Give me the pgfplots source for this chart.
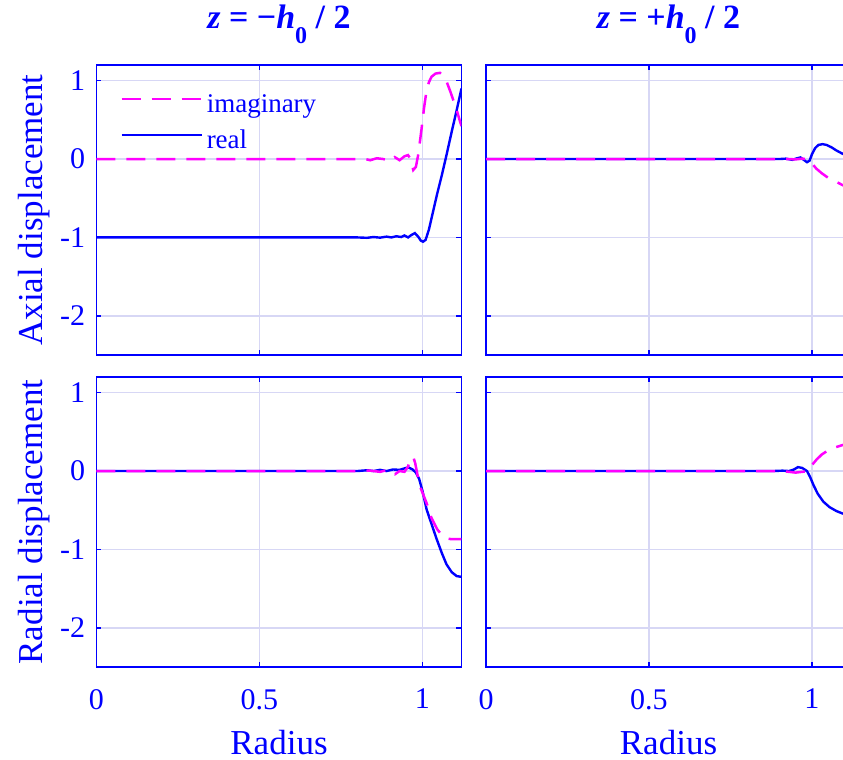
\documentclass[border=0pt]{standalone}
\usepackage{fontspec}
\setmainfont{Liberation Serif}
\usepackage{pgfplots}
\pgfplotsset{compat=1.18}

\definecolor{lineblue}{RGB}{0,0,255}
\definecolor{linemag}{RGB}{255,0,255}
\definecolor{gridcol}{RGB}{215,215,245}

% axial / radial displacement, real and imaginary parts
\pgfplotstableread{
x y
0 -1
0.80 -1
0.83 -1.005
0.85 -0.995
0.87 -1.003
0.89 -0.99
0.905 -1.0
0.92 -0.985
0.935 -0.995
0.945 -0.975
0.956 -1.0
0.966 -0.97
0.977 -0.945
0.987 -0.99
0.995 -1.04
1.002 -1.055
1.01 -1.03
1.02 -0.9
1.03 -0.72
1.045 -0.45
1.06 -0.2
1.075 0.07
1.09 0.35
1.105 0.62
1.12 0.9
}\axrealL
\pgfplotstableread{
x y
0 0
0.80 0
0.82 0.005
0.84 -0.015
0.86 0.01
0.88 0
0.90 -0.025
0.915 0.025
0.93 -0.015
0.945 0.035
0.956 0.05
0.964 0.0
0.972 -0.14
0.98 -0.1
0.987 0.05
0.997 0.37
1.005 0.65
1.013 0.88
1.02 0.98
1.028 1.05
1.04 1.09
1.054 1.1
1.065 1.06
1.075 0.98
1.085 0.87
1.095 0.75
1.105 0.63
1.114 0.5
1.12 0.42
}\aximagL
\pgfplotstableread{
x y
0 0
0.90 0
0.92 0.005
0.94 -0.01
0.955 0.01
0.965 0.02
0.975 -0.01
0.985 -0.04
0.993 -0.02
1.0 0.06
1.01 0.14
1.02 0.18
1.033 0.19
1.045 0.18
1.06 0.15
1.075 0.11
1.093 0.07
1.12 0.02
}\axrealR
\pgfplotstableread{
x y
0 0
0.93 0
0.95 -0.005
0.97 0.005
0.985 0.0
0.995 -0.03
1.013 -0.12
1.03 -0.18
1.05 -0.24
1.07 -0.28
1.093 -0.33
1.12 -0.38
}\aximagR
\pgfplotstableread{
x y
0 0
0.80 0
0.83 0.01
0.85 0.0
0.87 0.015
0.89 0.0
0.91 0.02
0.93 0.015
0.95 0.04
0.958 0.045
0.97 0.02
0.98 -0.02
0.99 -0.1
1.0 -0.25
1.013 -0.49
1.03 -0.7
1.044 -0.87
1.06 -1.05
1.074 -1.19
1.09 -1.29
1.105 -1.34
1.12 -1.35
}\radrealL
\pgfplotstableread{
x y
0 0
0.80 0
0.84 0.005
0.87 -0.01
0.89 0.01
0.905 0.0
0.916 -0.04
0.93 0.0
0.945 -0.01
0.955 0.05
0.965 0.16
0.972 0.18
0.978 0.1
0.985 -0.05
0.995 -0.22
1.013 -0.41
1.028 -0.6
1.045 -0.74
1.06 -0.82
1.075 -0.86
1.09 -0.87
1.12 -0.87
}\radimagL
\pgfplotstableread{
x y
0 0
0.88 0
0.91 0.005
0.93 0.0
0.945 0.02
0.957 0.05
0.97 0.04
0.985 0.0
0.995 -0.08
1.005 -0.18
1.018 -0.29
1.035 -0.39
1.054 -0.46
1.075 -0.51
1.093 -0.54
1.12 -0.57
}\radrealR
\pgfplotstableread{
x y
0 0
0.90 0
0.93 -0.01
0.95 -0.02
0.97 -0.01
0.985 -0.005
0.995 0.05
1.013 0.14
1.03 0.21
1.052 0.27
1.07 0.3
1.093 0.33
1.12 0.36
}\radimagR

\pgfplotsset{disp/.style={
  width=182.5pt, height=145pt, scale only axis,
  xmin=0, xmax=1.12, ymin=-2.5, ymax=1.2,
  xtick={0,0.5,1}, ytick={-2,-1,0,1},
  xticklabels={0,0.5,1}, yticklabels={-2,-1,0,1},
  grid=major, major grid style={gridcol, line width=0.7pt},
  axis line style={lineblue, line width=0.75pt},
  tick style={lineblue, line width=0.75pt}, major tick length=2.5pt, tick align=inside,
  ticklabel style={font=\fontsize{15}{18}\selectfont, text=lineblue},
  yticklabel style={xshift=-2.2pt},
  xticklabel style={yshift=-7.5pt},
  label style={font=\fontsize{17.5}{21}\selectfont, text=lineblue},
  xlabel style={at={(axis description cs:0.5,0)}, anchor=north, yshift=-28.3pt},
  ylabel style={at={(axis description cs:-0.1493,0.5)}, anchor=base, rotate=0},
  title style={at={(axis description cs:0.5,1)}, anchor=base, yshift=12pt,
    font=\fontsize{17}{20}\selectfont\bfseries, text=lineblue},
  /pgf/number format/assume math mode=true,
},
re/.style={lineblue, line width=1.2pt},
im/.style={linemag, line width=1.25pt, dash pattern=on 9.5pt off 5.5pt}}

\begin{document}
\begin{tikzpicture}
\useasboundingbox (-48.25pt,-46.5pt) rectangle (373.25pt,333.5pt);
\clip (-48.25pt,-46.5pt) rectangle (373.25pt,333.5pt);

\begin{axis}[disp, at={(0pt,156pt)}, anchor=south west,
  xticklabels={}, ylabel={Axial displacement},
  title={\textit{z} = −\textit{h}\raisebox{-7.5pt}{\fontsize{12}{14}\selectfont 0} / 2},
  reverse legend,
  legend style={draw=none, fill=none, at={(axis description cs:0.064,0.903)}, anchor=north west,
    font=\fontsize{13.5}{16}\selectfont, text=lineblue, inner sep=0pt, row sep=5.5pt,
    nodes={inner sep=0pt, text height=9.5pt, text depth=3pt}},
  legend cell align=left,
  legend image code/.code={\draw[#1] (0pt,3.5pt) -- (40pt,3.5pt);}]
\addplot[re] table {\axrealL};
\addlegendentry{\hspace{2pt}real}
\addplot[im] table {\aximagL};
\addlegendentry{\hspace{2pt}imaginary}
\end{axis}

\begin{axis}[disp, at={(194.75pt,156pt)}, anchor=south west,
  xticklabels={}, yticklabels={},
  title={\textit{z} = +\textit{h}\raisebox{-7.5pt}{\fontsize{12}{14}\selectfont 0} / 2}]
\addplot[re] table {\axrealR};
\addplot[im] table {\aximagR};
\end{axis}

\begin{axis}[disp, at={(0pt,0pt)}, anchor=south west,
  xlabel={Radius}, ylabel={Radial displacement}]
\addplot[re] table {\radrealL};
\addplot[im] table {\radimagL};
\end{axis}

\begin{axis}[disp, at={(194.75pt,0pt)}, anchor=south west,
  xlabel={Radius}, yticklabels={}]
\addplot[re] table {\radrealR};
\addplot[im] table {\radimagR};
\end{axis}
\end{tikzpicture}
\end{document}
